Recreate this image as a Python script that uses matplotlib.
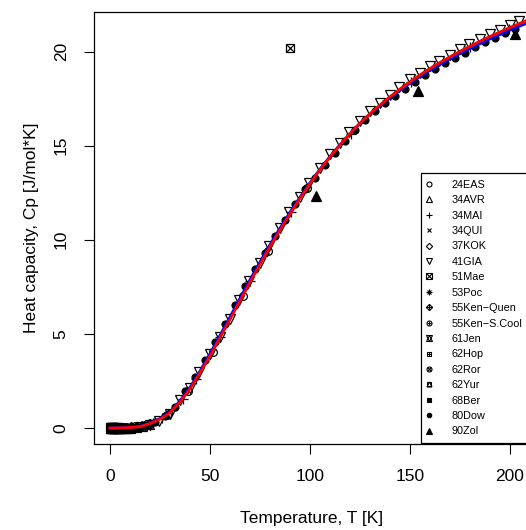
import matplotlib
matplotlib.use("Agg")
import matplotlib.pyplot as plt
from matplotlib.lines import Line2D

plt.rcParams['font.family'] = ['Liberation Sans', 'DejaVu Sans']

# fitted curves (red and blue)
t_fit = [0, 5, 10, 15, 20, 25, 30, 35, 40, 45, 50, 55, 60, 65, 70, 75, 80, 85, 90, 95,
         100, 105, 110, 115, 120, 125, 130, 135, 140, 145, 150, 155, 160, 165, 170,
         175, 180, 185, 190, 195, 200, 205, 210]
cp_red = [0.0, 0.008, 0.025, 0.07, 0.23, 0.47, 0.81, 1.38, 2.08, 2.93, 3.83, 4.80, 5.77,
          6.76, 7.74, 8.70, 9.63, 10.52, 11.38, 12.20, 12.98, 13.72, 14.40, 15.04, 15.65,
          16.20, 16.70, 17.16, 17.60, 18.01, 18.40, 18.76, 19.10, 19.42, 19.72, 20.01,
          20.28, 20.55, 20.80, 21.04, 21.28, 21.50, 21.72]
cp_blue = [0.0, 0.008, 0.03, 0.09, 0.25, 0.50, 0.86, 1.44, 2.16, 3.02, 3.94, 4.92, 5.90,
           6.89, 7.87, 8.82, 9.74, 10.62, 11.46, 12.26, 13.03, 13.75, 14.42, 15.05, 15.64,
           16.18, 16.67, 17.12, 17.54, 17.94, 18.32, 18.67, 19.00, 19.31, 19.61, 19.89,
           20.16, 20.42, 20.67, 20.91, 21.14, 21.36, 21.57]

# measured data sets
labels = ["24EAS", "34AVR", "34MAI", "34QUI", "37KOK", "41GIA", "51Mae", "53Poc",
          "55Ken\u2212Quen", "55Ken\u2212S.Cool", "61Jen", "62Hop", "62Ror", "62Yur",
          "68Ber", "80Dow", "90Zol"]

t_24eas = [28.5, 39.0, 51.6, 66.3, 78.8, 98.3]
cp_24eas = [0.70, 1.95, 4.05, 7.00, 9.42, 12.75]

t_34avr = [2.1, 3.4, 4.8, 6.2, 8.0, 10.5, 13.2, 16.0, 19.4]
cp_34avr = [0.003, 0.005, 0.007, 0.010, 0.017, 0.028, 0.05, 0.09, 0.20]

t_34mai = [15.5, 18.3, 21.7, 26.0, 31.2, 36.4, 43.0, 55.1, 70.2, 90.4, 120.3, 150.5, 180.2, 199.5]
cp_34mai = [0.08, 0.14, 0.29, 0.54, 0.95, 1.53, 2.62, 4.85, 7.79, 11.46, 15.63, 18.40, 20.25, 21.22]

t_34qui = [1.3, 1.9, 2.6, 3.3, 4.1, 4.9, 6.4, 8.3, 11.2]
cp_34qui = [0.002, 0.003, 0.004, 0.005, 0.006, 0.008, 0.011, 0.017, 0.032]

t_37kok = [1.2, 1.6, 2.0, 2.5, 3.0, 3.6, 4.3, 5.1, 6.0, 7.2, 8.6, 10.3, 12.1, 14.4, 17.0, 19.8]
cp_37kok = [0.002, 0.002, 0.003, 0.003, 0.004, 0.005, 0.006, 0.008, 0.010, 0.013, 0.018,
            0.027, 0.038, 0.058, 0.10, 0.20]

t_41gia = [15.2, 19.8, 24.6, 29.9, 35.1, 39.8, 44.7, 50.2, 54.9, 59.8, 64.6, 69.7, 74.8,
           79.6, 84.9, 89.7, 94.8, 99.6, 104.9, 110.1, 114.8, 119.7, 124.9, 130.2, 134.8,
           139.9, 144.7, 150.1, 154.8, 159.9, 164.6, 169.8, 175.1, 179.7, 184.9, 190.2,
           194.8, 199.9, 204.6]
cp_41gia = [0.03, 0.16, 0.38, 0.76, 1.47, 2.13, 2.96, 3.95, 4.86, 5.81, 6.80, 7.80, 8.78,
            9.68, 10.62, 11.45, 12.29, 13.04, 13.83, 14.53, 15.13, 15.73, 16.31, 16.84,
            17.26, 17.71, 18.11, 18.53, 18.87, 19.21, 19.51, 19.83, 20.14, 20.38, 20.66,
            20.93, 21.15, 21.40, 21.60]

t_51mae = [90.2]
cp_51mae = [20.2]

t_53poc = [1.5, 2.2, 2.9, 3.7, 4.5, 5.6, 7.0]
cp_53poc = [0.002, 0.003, 0.004, 0.005, 0.007, 0.009, 0.012]

t_55kenq = [0.4, 0.6, 0.8, 1.0, 1.2, 1.4, 1.6, 1.8, 2.0]
cp_55kenq = [0.001, 0.001, 0.001, 0.002, 0.002, 0.002, 0.002, 0.003, 0.003]

t_55kens = [0.5, 0.7, 0.9, 1.1, 1.3, 1.5, 1.7, 1.9]
cp_55kens = [0.001, 0.001, 0.001, 0.002, 0.002, 0.002, 0.002, 0.003]

t_61jen = [0.3, 0.5, 0.8, 1.2, 1.7, 2.3, 3.0, 3.8]
cp_61jen = [0.0, 0.001, 0.001, 0.002, 0.002, 0.003, 0.004, 0.005]

t_62hop = [1.1, 1.5, 2.0, 2.6, 3.2, 3.9]
cp_62hop = [0.002, 0.002, 0.003, 0.004, 0.004, 0.005]

t_62ror = [0.2, 0.35, 0.55, 0.8, 1.1, 1.5]
cp_62ror = [0.0, 0.0, 0.001, 0.001, 0.002, 0.002]

t_62yur = [0.1, 0.3, 0.6, 1.0, 1.5, 2.1, 2.8]
cp_62yur = [0.0, 0.0, 0.001, 0.001, 0.002, 0.003, 0.004]

t_68ber = [1.0, 1.4, 1.9, 2.5, 3.1, 3.8, 4.6, 5.5, 6.6, 7.9]
cp_68ber = [0.001, 0.002, 0.003, 0.003, 0.004, 0.005, 0.006, 0.008, 0.011, 0.016]

t_80dow = [2.0, 3.5, 5.0, 6.5, 8.5, 11.0, 13.5, 16.5, 19.5,
           22.5, 27.4, 32.6, 37.5, 42.4, 47.6, 52.5, 57.4, 62.6, 67.5, 72.4, 77.6, 82.5,
           87.4, 92.6, 97.5, 102.4, 107.6, 112.5, 117.4, 122.6, 127.5, 132.4, 137.6, 142.5,
           147.4, 152.6, 157.5, 162.4, 167.6, 172.5, 177.4, 182.6, 187.5, 192.4, 197.6, 202.5]
cp_80dow = [0.003, 0.005, 0.008, 0.011, 0.017, 0.030, 0.045, 0.08, 0.16,
            0.33, 0.62, 1.12, 1.95, 2.72, 3.62, 4.55, 5.52, 6.55, 7.52, 8.45, 9.30, 10.18,
            11.05, 11.88, 12.68, 13.26, 13.98, 14.62, 15.24, 15.83, 16.35, 16.83, 17.28,
            17.62, 18.01, 18.39, 18.73, 19.06, 19.37, 19.67, 19.94, 20.22, 20.48, 20.72,
            20.96, 21.19]

t_90zol = [5.2, 7.4, 9.9, 103.0, 153.8, 202.7]
cp_90zol = [0.008, 0.015, 0.024, 12.32, 17.88, 20.93]

series_t = [t_24eas, t_34avr, t_34mai, t_34qui, t_37kok, t_41gia, t_51mae, t_53poc,
            t_55kenq, t_55kens, t_61jen, t_62hop, t_62ror, t_62yur, t_68ber, t_80dow, t_90zol]
series_cp = [cp_24eas, cp_34avr, cp_34mai, cp_34qui, cp_37kok, cp_41gia, cp_51mae, cp_53poc,
             cp_55kenq, cp_55kens, cp_61jen, cp_62hop, cp_62ror, cp_62yur, cp_68ber, cp_80dow, cp_90zol]

# R pch 1..17 built from matplotlib markers (marker, size, filled)
pch = [
    [('o', 5.6, False)],
    [('^', 6.5, False)],
    [('+', 6.8, False)],
    [('x', 5.2, False)],
    [('D', 5.0, False)],
    [('v', 6.5, False)],
    [('s', 5.8, False), ('x', 5.8, False)],
    [('+', 6.8, False), ('x', 5.2, False)],
    [('D', 5.0, False), ('+', 7.0, False)],
    [('o', 5.6, False), ('+', 5.6, False)],
    [('^', 6.5, False), ('v', 6.5, False)],
    [('s', 5.6, False), ('+', 5.6, False)],
    [('o', 5.6, False), ('x', 4.0, False)],
    [('s', 5.6, False), ('^', 5.6, False)],
    [('s', 4.8, True)],
    [('o', 5.0, True)],
    [('^', 7.2, True)],
]

fig = plt.figure(figsize=(5.26, 5.30), dpi=100)
ax = fig.add_axes([94 / 526, 86 / 530, 436 / 526, 432 / 530])

for t, cp, style in zip(series_t, series_cp, pch):
    for m, s, filled in style:
        ax.plot(t, cp, linestyle='none', marker=m, markersize=s, color='black',
                markerfacecolor='black' if filled else 'none', markeredgewidth=0.9,
                zorder=2)

ax.plot(t_fit, cp_blue, color='#0000FF', lw=2.0, zorder=3)
ax.plot(t_fit, cp_red, color='#FF0000', lw=2.0, zorder=4)

ax.set_xlim(-8, 210)
ax.set_ylim(-0.85, 22.1)
ax.set_xticks([0, 50, 100, 150, 200])
ax.set_yticks([0, 5, 10, 15, 20])
ax.tick_params(direction='out', length=7.2, width=0.8, labelsize=12.5, color='black')
ax.tick_params(axis='x', pad=11)
ax.tick_params(axis='y', pad=11, labelrotation=90)
for lbl in ax.get_yticklabels():
    lbl.set_va('center')
for sp in ax.spines.values():
    sp.set_linewidth(0.9)

ax.set_xlabel("Temperature, T [K]", fontsize=12.5)
ax.set_ylabel("Heat capacity, Cp [J/mol*K]", fontsize=12.5)
ax.xaxis.set_label_coords(0.5, -0.155)
ax.yaxis.set_label_coords(-0.126, 0.5)

handles = []
for style in pch:
    parts = []
    for m, s, filled in style:
        parts.append(Line2D([], [], linestyle='none', marker=m, markersize=s * 0.64,
                            color='black', markerfacecolor='black' if filled else 'none',
                            markeredgewidth=0.8))
    handles.append(tuple(parts))

leg = ax.legend(handles, labels, loc='lower right', bbox_to_anchor=(1.0, 0.0),
                fontsize=7.8, frameon=True, fancybox=False, edgecolor='black',
                framealpha=1, borderaxespad=0.1, handlelength=0.2, handletextpad=2.0,
                labelspacing=0.5, borderpad=0.6)
leg.get_frame().set_linewidth(0.9)

fig.savefig("out.png", dpi=100)
